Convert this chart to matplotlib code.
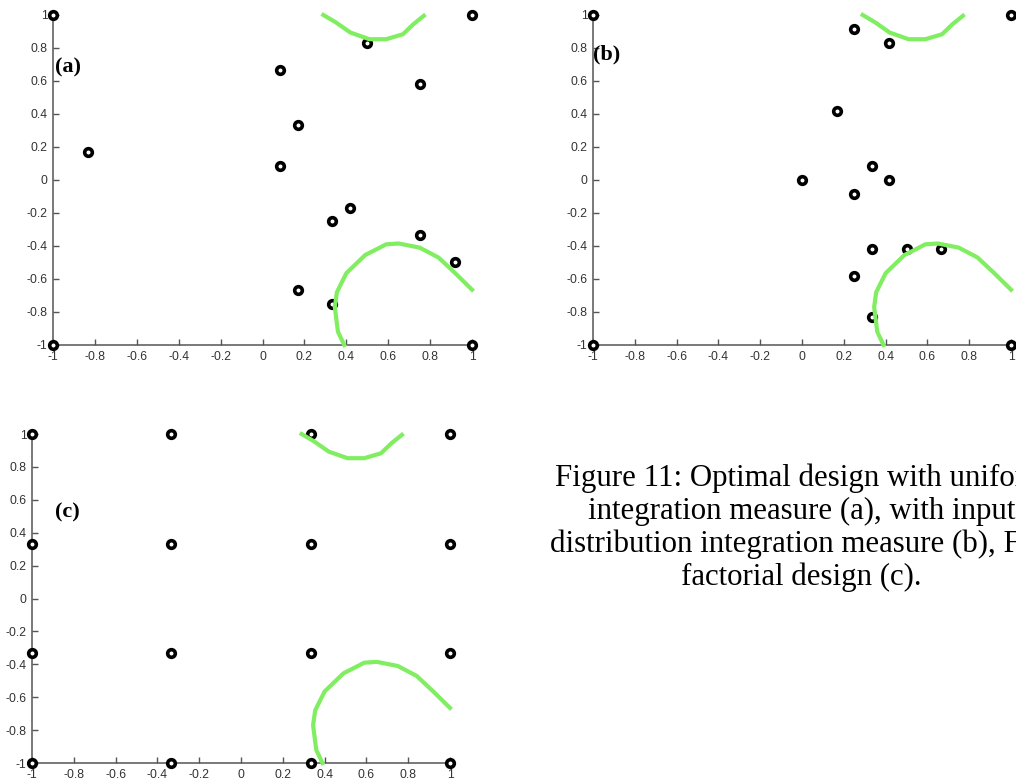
import numpy as np
import matplotlib
matplotlib.use("Agg")
import matplotlib.pyplot as plt

# design points
a_x = [-1, 1, -1, 1, -0.833, 0.083, 0.167, 0.083, 0.5, 0.75, 0.417, 0.333, 0.75, 0.917, 0.167, 0.333]
a_y = [1, 1, -1, -1, 0.167, 0.667, 0.333, 0.083, 0.833, 0.583, -0.167, -0.25, -0.333, -0.5, -0.667, -0.75]

b_x = [-1, 1, -1, 1, 0.25, 0.417, 0.167, 0.333, 0.0, 0.417, 0.25, 0.333, 0.5, 0.667, 0.25, 0.333]
b_y = [1, 1, -1, -1, 0.917, 0.833, 0.417, 0.083, 0.0, 0.0, -0.083, -0.417, -0.417, -0.417, -0.583, -0.833]

c_levels = [-1, -0.333, 0.333, 1]

# the two green contour pieces (same in every panel)
upper_x = [0.29, 0.35, 0.42, 0.51, 0.59, 0.67, 0.72, 0.77]
upper_y = [1.0, 0.955, 0.893, 0.853, 0.853, 0.883, 0.944, 0.995]
lower_x = [0.39, 0.36, 0.345, 0.355, 0.40, 0.49, 0.59, 0.65, 0.75, 0.84, 0.92, 1.0]
lower_y = [-1.0, -0.92, -0.77, -0.68, -0.565, -0.455, -0.39, -0.385, -0.41, -0.47, -0.565, -0.665]

ticks = np.round(np.arange(-1, 1.01, 0.2), 1)
tick_labels = ['-1', '-0.8', '-0.6', '-0.4', '-0.2', '0', '0.2', '0.4', '0.6', '0.8', '1']

caption = ("Figure 11: Optimal design with uniform\n"
           "integration measure (a), with input\n"
           "distribution integration measure (b), Full\n"
           "factorial design (c).")

green = '#80ee60'
axis_gray = '#555555'

fig = plt.figure(figsize=(10.16, 7.83), dpi=100)


def panel(rect, xs, ys, label, label_pos):
    ax = fig.add_axes(rect)
    ax.set_xlim(-1, 1)
    ax.set_ylim(-1, 1)
    ax.plot(xs, ys, 'o', ms=5.5, mfc='white', mec='black', mew=2.6,
            clip_on=False, zorder=3)
    ax.plot(upper_x, upper_y, color=green, lw=3, clip_on=False, zorder=4)
    ax.plot(lower_x, lower_y, color=green, lw=3, clip_on=False, zorder=4)
    ax.set_xticks(ticks)
    ax.set_yticks(ticks)
    ax.set_xticklabels(tick_labels)
    ax.set_yticklabels(tick_labels)
    ax.tick_params(direction='in', length=4, width=1, color=axis_gray,
                   labelsize=8.7, labelcolor='#333333', pad=4)
    for lab in ax.get_xticklabels() + ax.get_yticklabels():
        lab.set_family('Liberation Sans')
    for s in ['top', 'right']:
        ax.spines[s].set_visible(False)
    for s in ['left', 'bottom']:
        ax.spines[s].set_color(axis_gray)
        ax.spines[s].set_linewidth(1.1)
    ax.text(label_pos[0], label_pos[1], label, fontsize=16, fontweight='bold',
            family='Liberation Serif', va='center', ha='left')
    return ax


panel([0.0522, 0.5594, 0.4124, 0.4215], a_x, a_y, '(a)', (-0.99, 0.68))
panel([0.5837, 0.5594, 0.4114, 0.4215], b_x, b_y, '(b)', (-1.0, 0.76))

cx = [x for y in c_levels for x in c_levels]
cy = [y for y in c_levels for x in c_levels]
panel([0.0315, 0.0255, 0.4114, 0.4202], cx, cy, '(c)', (-0.89, 0.52))

fig.text(0.789, 0.326, caption, fontsize=22.2, family='Liberation Serif',
         ha='center', va='center', linespacing=1.15)

fig.savefig('out.png', dpi=100)
